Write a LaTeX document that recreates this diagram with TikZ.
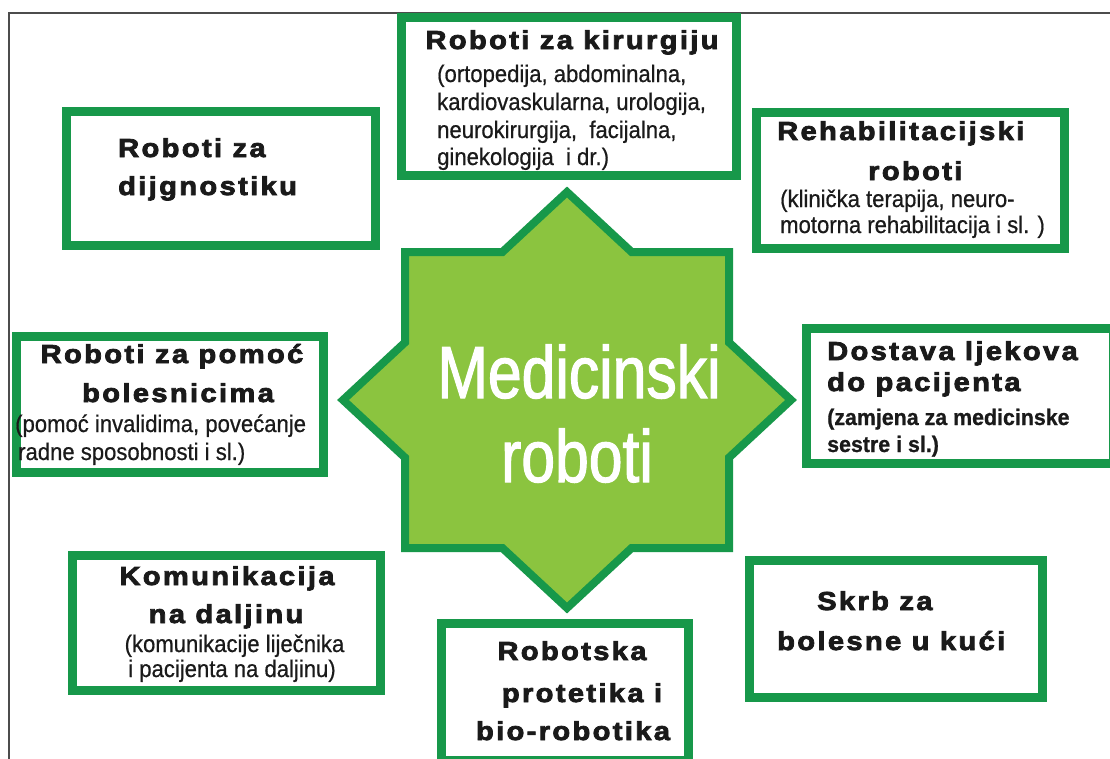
\documentclass[tikz,border=0pt]{standalone}
\usepackage{fontspec}
\setmainfont{Liberation Sans}
\newfontfamily\titlefont[LetterSpace=9,FakeStretch=1.12,FakeBold=3]{Liberation Sans Bold}
\newfontfamily\subfont[FakeStretch=0.92,FakeBold=0.6]{Liberation Sans}
\newfontfamily\subbfont[FakeStretch=0.95,FakeBold=0.8]{Liberation Sans Bold}
\newfontfamily\bigfont[FakeStretch=0.82,FakeBold=1.5]{Liberation Sans}
\definecolor{boxgreen}{HTML}{17984A}
\definecolor{starfill}{HTML}{8BC43F}
\definecolor{txt}{HTML}{1A1A1A}
\tikzset{
  box/.style={draw=boxgreen, line width=9pt, inner sep=0pt, fill=white, rectangle},
  ttl/.style={inner sep=0pt, text=txt, font=\titlefont\fontsize{26}{30}\selectfont},
  sub/.style={inner sep=0pt, text=txt, font=\subfont\fontsize{24}{28}\selectfont},
  subb/.style={inner sep=0pt, text=txt, font=\subbfont\fontsize{22.5}{26}\selectfont},
  big/.style={inner sep=0pt, text=white, font=\bigfont\fontsize{74}{84}\selectfont},
  frame/.style={draw=black!70, line width=1.5pt},
}
\begin{document}
\begin{tikzpicture}[x=1pt,y=-1pt]
\clip (0,0) rectangle (1110,758);
\fill[white] (0,0) rectangle (1110,758);
% frame (top and left only)
\coordinate (f1) at (1112,13);
\coordinate (f2) at (9,13);
\coordinate (f3) at (9,760);
\draw[frame] (f1) -- (f2) -- (f3);

% star
\draw[draw=boxgreen, fill=starfill, line width=8pt, line join=miter]
  (567,192) -- (631.6,252) -- (729,252) -- (729,342.4) -- (791,400) -- (729,457.6)
  -- (729,548) -- (631.6,548) -- (567,608) -- (502.4,548) -- (405,548) -- (405,457.6)
  -- (343,400) -- (405,342.4) -- (405,252) -- (502.4,252) -- cycle;
\node[big, anchor=base] (c1) at (579,398) {Medicinski};
\node[big, anchor=base] (c2) at (577,482) {roboti};

% boxes
\node[box, minimum width=309pt, minimum height=134pt] (b1) at (221,178.5) {};
\node[box, minimum width=335pt, minimum height=158pt] (b2) at (569,96.5) {};
\node[box, minimum width=308pt, minimum height=136pt] (b3) at (910.5,180.5) {};
\node[box, minimum width=307pt, minimum height=136pt] (b4) at (170,404.5) {};
\node[box, minimum width=307pt, minimum height=135pt] (b5) at (960,396) {};
\node[box, minimum width=308pt, minimum height=135pt] (b6) at (226.5,623) {};
\node[box, minimum width=247pt, minimum height=137pt] (b7) at (565,692) {};
\node[box, minimum width=293pt, minimum height=137pt] (b8) at (896,629) {};

% box 1
\node[ttl, anchor=base west] (t11) at (118,157) {Roboti za};
\node[ttl, anchor=base west] (t12) at (118,195) {dijgnostiku};
% box 2
\node[ttl, anchor=base] (t21) at (572,49) {Roboti za kirurgiju};
\node[sub, anchor=base west] (s21) at (437,82) {(ortopedija, abdominalna,};
\node[sub, anchor=base west] (s22) at (437,110) {kardiovaskularna, urologija,};
\node[sub, anchor=base west] (s23) at (437,138) {neurokirurgija,\ \ facijalna,};
\node[sub, anchor=base west] (s24) at (437,165) {ginekologija\ \ i dr.)};
% box 3
\node[ttl, anchor=base west] (t31) at (777,140) {Rehabilitacijski};
\node[ttl, anchor=base west] (t32) at (868,180) {roboti};
\node[sub, anchor=base west] (s31) at (780,207) {(klinička terapija, neuro-};
\node[sub, anchor=base west] (s32) at (780,233) {motorna rehabilitacija i sl. )};
% box 4
\node[ttl, anchor=base] (t41) at (172,363) {Roboti za pomoć};
\node[ttl, anchor=base] (t42) at (178,402) {bolesnicima};
\node[sub, anchor=base west] (s41) at (15,432) {(pomoć invalidima, povećanje};
\node[sub, anchor=base west] (s42) at (18,460) {radne sposobnosti i sl.)};
% box 5
\node[ttl, anchor=base west] (t51) at (827,360) {Dostava ljekova};
\node[ttl, anchor=base west] (t52) at (827,391) {do pacijenta};
\node[subb, anchor=base west] (s51) at (827,425) {(zamjena za medicinske};
\node[subb, anchor=base west] (s52) at (827,452) {sestre i sl.)};
% box 6
\node[ttl, anchor=base] (t61) at (227,585) {Komunikacija};
\node[ttl, anchor=base] (t62) at (226,623) {na daljinu};
\node[sub, anchor=base] (s61) at (234.5,652) {(komunikacije liječnika};
\node[sub, anchor=base] (s62) at (232,677) {i pacijenta na daljinu)};
% box 7
\node[ttl, anchor=base] (t71) at (572,660) {Robotska};
\node[ttl, anchor=base] (t72) at (582,702) {protetika i};
\node[ttl, anchor=base] (t73) at (573,740) {bio-robotika};
% box 8
\node[ttl, anchor=base west] (t81) at (817,610) {Skrb za};
\node[ttl, anchor=base west] (t82) at (777,650) {bolesne u kući};
\end{tikzpicture}
\end{document}
